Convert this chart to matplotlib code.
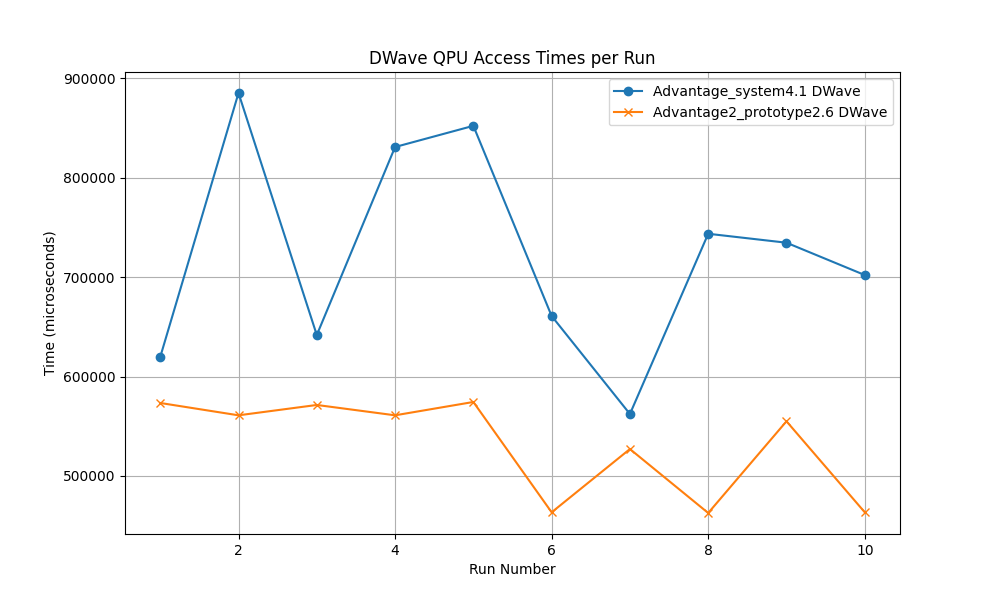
import matplotlib
matplotlib.use("Agg")
import matplotlib.pyplot as plt

runs = [1, 2, 3, 4, 5, 6, 7, 8, 9, 10]
adv41 = [619600, 885000, 641700, 830700, 852000, 660800, 562300, 743500, 734500, 702000]
adv2p = [573400, 561000, 571400, 561000, 574400, 463500, 527100, 462800, 555000, 463500]

fig, ax = plt.subplots(figsize=(10, 6), dpi=100)
ax.plot(runs, adv41, marker='o', label='Advantage_system4.1 DWave')
ax.plot(runs, adv2p, marker='x', label='Advantage2_prototype2.6 DWave')
ax.set_title('DWave QPU Access Times per Run')
ax.set_xlabel('Run Number')
ax.set_ylabel('Time (microseconds)')
ax.legend()
ax.grid(True)
fig.savefig('out.png')
